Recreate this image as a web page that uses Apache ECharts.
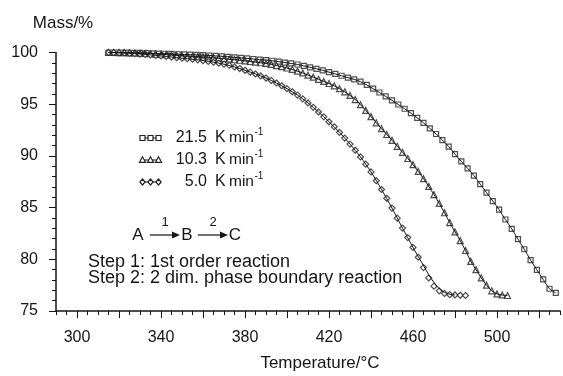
<!DOCTYPE html>
<html>
<head>
<meta charset="utf-8">
<script src="https://cdn.jsdelivr.net/npm/echarts@6/dist/echarts.min.js"></script>
<style>html,body{margin:0;padding:0;background:#fff}#c{width:563px;height:376px}</style>
</head>
<body>
<div id="c"></div>
<script>
// ---- Data ----
const xTickLabels = [300, 340, 380, 420, 460, 500];
const xMajorTicks = [300, 320, 340, 360, 380, 400, 420, 440, 460, 480, 500, 520];
const legendRates = ['21.5', '10.3', '5.0'];

// 5.0 K/min (diamonds)
const temp5 = [315,317.5,320,322.5,325,327.5,330,332.5,335,337.5,340,342.5,345,347.5,350,352.5,355,357.5,360,362.5,365,367.5,370,372.5,375,377.5,380,382.5,385,387.5,390,392.5,395,397.5,400,402.5,405,407.5,410,412.5,415,417.5,420,422.5,425,427.5,430,432.5,435,437.5,440,442.5,445,447.5,450,452.5,455,457.5,460,462.5,465,467.5,470,472.5,475,477.5,480,482.5,485];
const mass5 = [100.0,99.99,99.97,99.95,99.92,99.89,99.85,99.81,99.77,99.72,99.67,99.62,99.56,99.5,99.45,99.4,99.35,99.29,99.22,99.14,99.06,98.97,98.87,98.76,98.6,98.45,98.28,98.1,97.92,97.73,97.53,97.3,97.05,96.78,96.5,96.2,95.88,95.52,95.12,94.7,94.25,93.78,93.3,92.82,92.28,91.72,91.14,90.55,89.9,89.2,88.45,87.6,86.75,85.9,84.95,83.98,83.02,82.1,81.15,80.2,79.2,78.2,77.4,76.95,76.7,76.58,76.55,76.52,76.5];
const fitTemp5 = [315,320,325,330,335,340,345,350,355,360,365,370,375,380,385,390,395,400,405,410,415,420,425,430,435,440,445,450,455,460,462.5,465,467.5,470,472.5,475,477.5,480];
const fitMass5 = [100.0,99.97,99.92,99.85,99.77,99.67,99.56,99.45,99.35,99.22,99.06,98.87,98.6,98.28,97.92,97.53,97.05,96.5,95.88,95.12,94.25,93.3,92.28,91.14,89.9,88.45,86.75,84.95,83.02,81.15,80.25,79.4,78.5,77.75,77.15,76.8,76.62,76.55];

// 10.3 K/min (triangles)
const temp10 = [315,317.5,320,322.5,325,327.5,330,332.5,335,337.5,340,342.5,345,347.5,350,352.5,355,357.5,360,362.5,365,367.5,370,372.5,375,377.5,380,382.5,385,387.5,390,392.5,395,397.5,400,402.5,405,407.5,410,412.5,415,417.5,420,422.5,425,427.5,430,432.5,435,437.5,440,442.5,445,447.5,450,452.5,455,457.5,460,462.5,465,467.5,470,472.5,475,477.5,480,482.5,485,487.5,490,492.5,495,497.5,500,502.5,505];
const mass10 = [100.0,100.0,99.99,99.98,99.97,99.95,99.93,99.91,99.88,99.85,99.82,99.79,99.76,99.72,99.69,99.66,99.63,99.6,99.57,99.53,99.49,99.45,99.4,99.35,99.3,99.25,99.19,99.13,99.07,99.01,98.94,98.85,98.74,98.63,98.5,98.37,98.2,98.02,97.82,97.62,97.41,97.2,97.0,96.78,96.5,96.2,95.85,95.45,94.95,94.4,93.8,93.2,92.63,92.07,91.5,90.93,90.35,89.75,89.15,88.5,87.8,87.05,86.25,85.4,84.5,83.55,82.65,81.8,80.85,79.8,79.0,78.2,77.5,76.95,76.65,76.55,76.5];

// 21.5 K/min (squares)
const temp21 = [315,318,321,324,327,330,333,336,339,342,345,348,351,354,357,360,363,366,369,372,375,378,381,384,387,390,393,396,399,402,405,408,411,414,417,420,423,426,429,432,435,438,441,444,447,450,453,456,459,462,465,468,471,474,477,480,483,486,489,492,495,498,501,504,507,510,513,516,519,522,525,528];
const mass21 = [100.0,100.0,99.99,99.98,99.97,99.96,99.94,99.92,99.9,99.88,99.86,99.83,99.81,99.79,99.77,99.75,99.71,99.67,99.63,99.58,99.53,99.48,99.43,99.37,99.31,99.27,99.2,99.12,99.03,98.94,98.84,98.71,98.57,98.42,98.27,98.1,97.93,97.75,97.57,97.4,97.18,96.86,96.5,96.13,95.75,95.37,94.97,94.56,94.13,93.67,93.2,92.67,92.12,91.53,90.9,90.17,89.47,88.8,88.1,87.27,86.45,85.63,84.8,83.85,82.95,81.95,80.97,79.92,78.98,78.05,77.15,76.75];

const zip = (a, b) => a.map((v, i) => [v, b[i]]);
const FONT = '"Liberation Sans", Arial, Helvetica, sans-serif';
const INK = '#151515';
const MARK = '#222';

const chart = echarts.init(document.getElementById('c'), null, {renderer: 'canvas'});

const markerStyle = {color: '#fff', borderColor: MARK, borderWidth: 1.2};
const lineStyle = {color: INK, width: 1};

function legendRow(y, symbol, label) {
  const els = [{type: 'line', shape: {x1: 140, y1: y, x2: 161, y2: y}, style: {stroke: INK, lineWidth: 1}}];
  [142.5, 150.5, 158.5].forEach(x => {
    if (symbol === 'rect') {
      els.push({type: 'rect', shape: {x: x - 2.5, y: y - 2.5, width: 5, height: 5}, style: {fill: '#fff', stroke: MARK, lineWidth: 1.2}});
    } else if (symbol === 'triangle') {
      els.push({type: 'polygon', shape: {points: [[x, y - 3.2], [x + 3, y + 2.3], [x - 3, y + 2.3]]}, style: {fill: '#fff', stroke: MARK, lineWidth: 1.2}});
    } else {
      els.push({type: 'polygon', shape: {points: [[x, y - 3], [x + 2.6, y], [x, y + 3], [x - 2.6, y]]}, style: {fill: '#fff', stroke: MARK, lineWidth: 1.2}});
    }
  });
  els.push({type: 'text', style: {x: 207, y: y, text: label, align: 'right', verticalAlign: 'middle', font: '16px ' + FONT, fill: INK}});
  els.push({type: 'text', style: {x: 215, y: y, text: 'K', align: 'left', verticalAlign: 'middle', font: '16px ' + FONT, fill: INK}});
  els.push({type: 'text', style: {x: 229, y: y, text: 'min', align: 'left', verticalAlign: 'middle', font: '15.5px ' + FONT, fill: INK}});
  els.push({type: 'text', style: {x: 254.5, y: y - 6, text: '-1', align: 'left', verticalAlign: 'middle', font: '10px ' + FONT, fill: INK}});
  return els;
}

function arrow(x1, x2, y) {
  return [
    {type: 'line', shape: {x1: x1, y1: y, x2: x2 - 6, y2: y}, style: {stroke: INK, lineWidth: 1.2}},
    {type: 'polygon', shape: {points: [[x2, y], [x2 - 8, y - 3.5], [x2 - 8, y + 3.5]]}, style: {fill: INK}}
  ];
}

const graphics = [].concat(
  [{type: 'text', style: {x: 63, y: 23, text: 'Mass/%', align: 'center', verticalAlign: 'middle', font: '17px ' + FONT, fill: INK}},
   {type: 'text', style: {x: 320, y: 363, text: 'Temperature/°C', align: 'center', verticalAlign: 'middle', font: '17px ' + FONT, fill: INK}}],
  legendRow(138, 'rect', legendRates[0]),
  legendRow(160, 'triangle', legendRates[1]),
  legendRow(182, 'diamond', legendRates[2]),
  [{type: 'text', style: {x: 138, y: 235, text: 'A', align: 'center', verticalAlign: 'middle', font: '17px ' + FONT, fill: INK}}],
  arrow(150, 180, 235),
  [{type: 'text', style: {x: 165, y: 222, text: '1', align: 'center', verticalAlign: 'middle', font: '13px ' + FONT, fill: INK}},
   {type: 'text', style: {x: 187, y: 235, text: 'B', align: 'center', verticalAlign: 'middle', font: '17px ' + FONT, fill: INK}}],
  arrow(198, 228, 235),
  [{type: 'text', style: {x: 213, y: 222, text: '2', align: 'center', verticalAlign: 'middle', font: '13px ' + FONT, fill: INK}},
   {type: 'text', style: {x: 235, y: 235, text: 'C', align: 'center', verticalAlign: 'middle', font: '17px ' + FONT, fill: INK}},
   {type: 'text', style: {x: 88, y: 262, text: 'Step 1: 1st order reaction', align: 'left', verticalAlign: 'middle', font: '18px ' + FONT, fill: INK}},
   {type: 'text', style: {x: 88, y: 278, text: 'Step 2: 2 dim. phase boundary reaction', align: 'left', verticalAlign: 'middle', font: '18px ' + FONT, fill: INK}}]
);

const option = {
  animation: false,
  backgroundColor: '#fff',
  grid: {left: 56, right: 3, top: 52.5, bottom: 65},
  xAxis: [
    {type: 'value', min: 290, max: 530, interval: 5, position: 'bottom',
     axisLine: {show: true, lineStyle: {color: INK, width: 1.5}},
     axisTick: {show: true, length: 4, lineStyle: {color: INK, width: 1}},
     axisLabel: {show: false}, splitLine: {show: false}},
    {type: 'value', min: 290, max: 530, interval: 5, position: 'bottom', offset: 0,
     axisLine: {show: false},
     axisTick: {show: true, customValues: xMajorTicks, length: 7, lineStyle: {color: INK, width: 1}},
     axisLabel: {show: true, customValues: xTickLabels, margin: 19, fontSize: 16, fontFamily: FONT, color: INK},
     splitLine: {show: false}}
  ],
  yAxis: {
    type: 'value', min: 75, max: 100, interval: 5,
    axisLine: {show: true, lineStyle: {color: INK, width: 1.5}},
    axisTick: {show: true, length: 7, lineStyle: {color: INK, width: 1}},
    minorTick: {show: true, splitNumber: 5, length: 4, lineStyle: {color: INK, width: 1}},
    axisLabel: {margin: 18, fontSize: 16, fontFamily: FONT, color: INK},
    splitLine: {show: false}
  },
  series: [
    {type: 'scatter', name: '21.5', data: zip(temp21, mass21), symbol: 'rect', symbolSize: 5, itemStyle: markerStyle, z: 2},
    {type: 'scatter', name: '10.3', data: zip(temp10, mass10), symbol: 'triangle', symbolSize: 6, itemStyle: markerStyle, z: 2},
    {type: 'scatter', name: '5.0', data: zip(temp5, mass5), symbol: 'diamond', symbolSize: 6, itemStyle: markerStyle, z: 2},
    {type: 'line', data: zip(temp21, mass21), showSymbol: false, symbol: 'none', smooth: 0.3, lineStyle: lineStyle, z: 3},
    {type: 'line', data: zip(temp10, mass10), showSymbol: false, symbol: 'none', smooth: 0.3, lineStyle: lineStyle, z: 3},
    {type: 'line', data: zip(fitTemp5, fitMass5), showSymbol: false, symbol: 'none', smooth: 0.3, lineStyle: lineStyle, z: 3}
  ],
  graphic: graphics
};
chart.setOption(option);
</script>
</body>
</html>
